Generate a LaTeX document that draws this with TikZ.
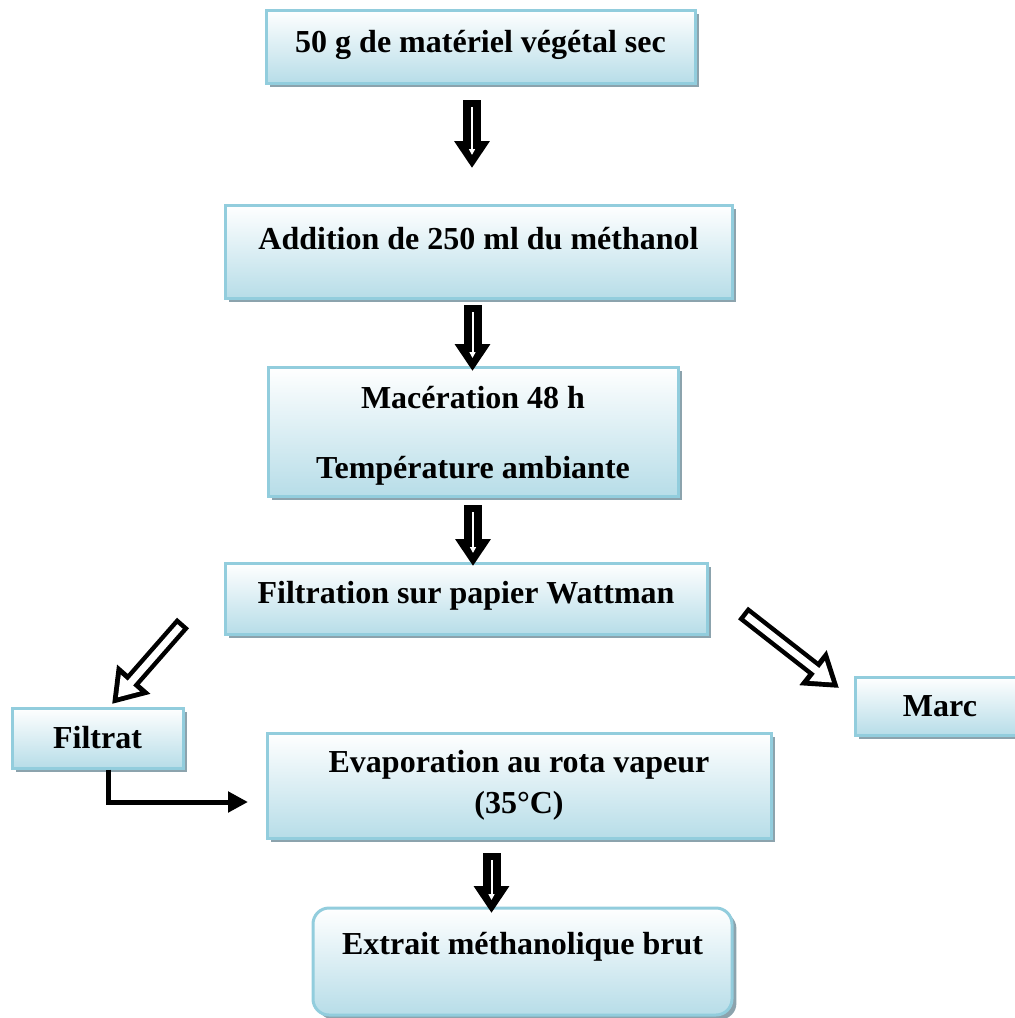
\documentclass[tikz,border=0pt]{standalone}
\usepackage{fontspec}
\setmainfont{Liberation Serif}
\usetikzlibrary{arrows.meta,shadows,calc}
\definecolor{boxedge}{RGB}{146,205,221}
\definecolor{boxbot}{RGB}{183,221,232}
\definecolor{shadowc}{RGB}{140,163,173}

\begin{document}
\begin{tikzpicture}[x=0.5pt,y=-0.5pt,
  stage/.style={draw=boxedge, line width=1.5pt, top color=white, bottom color=boxbot,
    drop shadow={shadow xshift=2.2pt, shadow yshift=-2.2pt, fill=shadowc, opacity=1},
    align=center, font=\fontsize{16}{19}\selectfont\bfseries, inner sep=0pt},
  oneline/.style={text height=12pt, text depth=#1},
  downarrow/.style={draw=black, line width=9pt, -{Triangle[width=17pt,length=13.5pt]},
    postaction={draw=white, line width=1pt, shorten <=3.5pt, shorten >=6.5pt,
      -{Triangle[width=3pt,length=3pt]}}},
  sidearrow/.style={draw=black, line width=8pt, -{Triangle[width=21pt,length=16.5pt]},
    postaction={draw=white, line width=3.5pt, shorten <=2.3pt, shorten >=4.4pt,
      -{Triangle[width=12pt,length=9.5pt]}}},
  elbow/.style={draw=black, line width=2.5pt, line join=miter,
    -{Triangle[width=10pt,length=10pt]}}]

\useasboundingbox (0,0) rectangle (1014,1018);

% process stages
\node[stage, oneline=6.4pt, minimum width=214.5pt, minimum height=36.5pt] (dry) at (480.5,46.5)
  {50 g de matériel végétal sec};
\node[stage, oneline=14.4pt, minimum width=253.5pt, minimum height=46.5pt] (meoh) at (478.5,251.5)
  {Addition de 250 ml du méthanol};
\node[stage, minimum width=205pt, minimum height=64.5pt] (mac) at (473,431.5)
  {\\[-4pt]Macération 48 h\\[16pt]Température ambiante};
\node[stage, oneline=7.4pt, minimum width=241pt, minimum height=35.5pt] (filt) at (466,598.5)
  {Filtration sur papier Wattman};
\node[stage, oneline=1.4pt, minimum width=85pt, minimum height=29pt] (marc) at (940,706)
  {Marc};
\node[stage, oneline=1.4pt, minimum width=85.5pt, minimum height=30pt] (filtrat) at (97.5,738)
  {Filtrat};
\node[stage, minimum width=252pt, minimum height=52.5pt] (evap) at (519,785.5)
  {Evaporation au rota vapeur\\[1.5pt](35°C)};
\node[stage, rounded corners=8pt, oneline=19.4pt, minimum width=209.5pt, minimum height=53.5pt]
  (brut) at (522.5,961.5) {Extrait méthanolique brut};

% arrow end points
\coordinate (a1s) at (472,100);   \coordinate (a1e) at (472,168);
\coordinate (a2s) at (472.5,305); \coordinate (a2e) at (472.5,371);
\coordinate (a3s) at (473,505);   \coordinate (a3e) at (473,566);
\coordinate (a4s) at (491.5,853); \coordinate (a4e) at (491.5,913);
\coordinate (rs) at (743,613);    \coordinate (re) at (839,688);
\coordinate (ls) at (183,623);    \coordinate (le) at (112,704);
\coordinate (ftip) at (248,802);

% block arrows
\draw[downarrow] (a1s) -- (a1e);
\draw[downarrow] (a2s) -- (a2e);
\draw[downarrow] (a3s) -- (a3e);
\draw[downarrow] (a4s) -- (a4e);
\draw[sidearrow] (rs) -- (re);
\draw[sidearrow] (ls) -- (le);

% filtrate to evaporation
\draw[elbow] ([xshift=5.5pt]filtrat.south) |- (ftip);
\end{tikzpicture}
\end{document}
